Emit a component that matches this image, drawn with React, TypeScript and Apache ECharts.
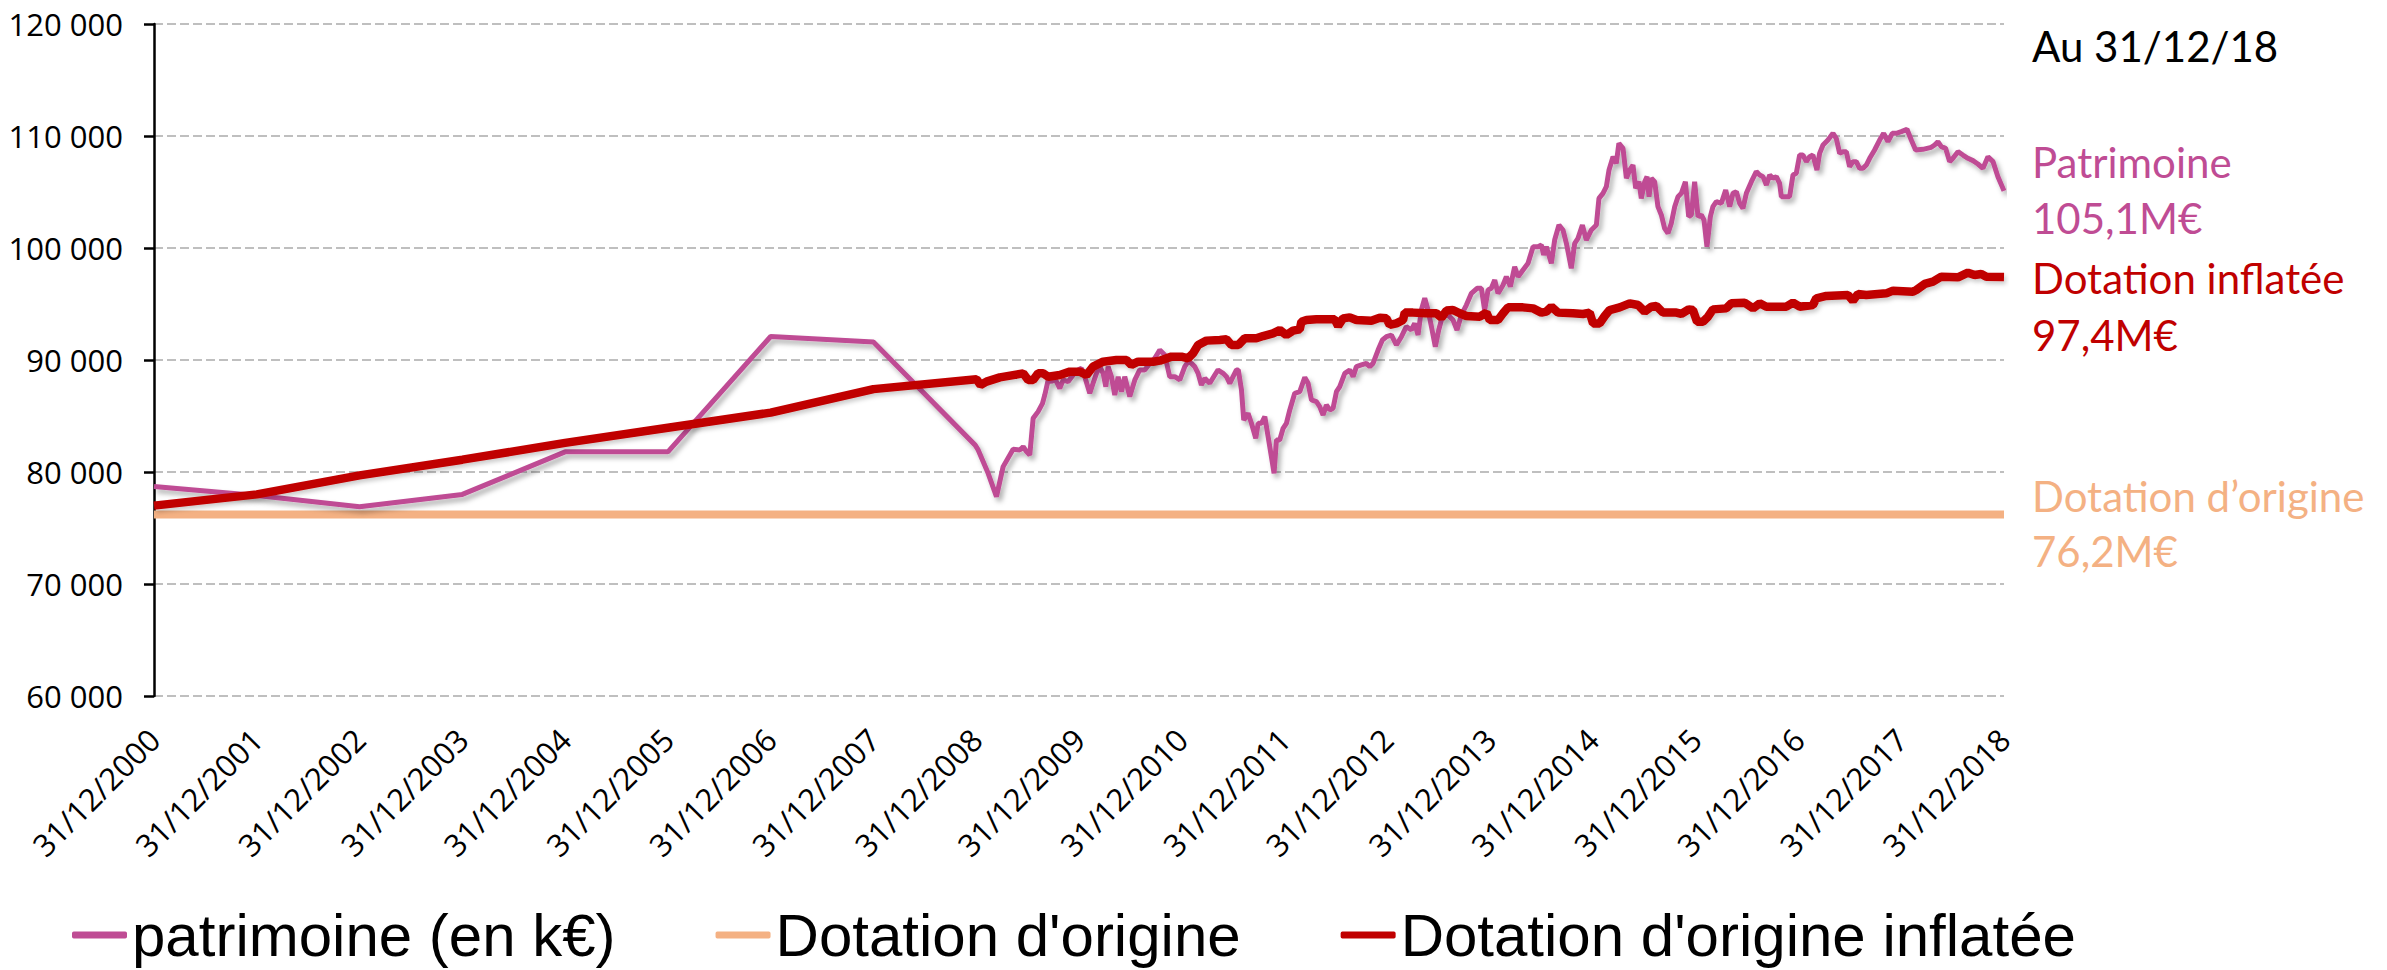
import React, { useEffect, useRef } from "react";
import * as echarts from "echarts";

// x = years elapsed since 31/12/2000 (0 = 31/12/2000, 18 = 31/12/2018)
const yearTicks = [2000, 2001, 2002, 2003, 2004, 2005, 2006, 2007, 2008, 2009, 2010, 2011, 2012, 2013, 2014, 2015, 2016, 2017, 2018];
const yTicks = [60000, 70000, 80000, 90000, 100000, 110000, 120000];

const seriesNames = ["patrimoine (en k€)", "Dotation d'origine", "Dotation d'origine inflatée"];

const patrimoineT = [
  0, 1, 2, 3, 4, 5, 6, 7, 7.99,
  8.019, 8.116, 8.197, 8.262, 8.359, 8.424, 8.457, 8.489, 8.521, 8.554, 8.602, 8.645, 8.667, 8.7, 8.732, 8.765, 8.813, 8.846, 8.894, 8.943, 8.992,
  9.024, 9.056, 9.105, 9.137, 9.17, 9.202, 9.235, 9.261, 9.283, 9.316, 9.348, 9.381, 9.413, 9.445, 9.494, 9.543, 9.591, 9.64, 9.689, 9.737, 9.786, 9.835, 9.883, 9.932, 9.981,
  10.029, 10.062, 10.094, 10.126, 10.159, 10.191, 10.224, 10.272, 10.321, 10.353, 10.402, 10.435, 10.467, 10.499, 10.532, 10.55, 10.581, 10.603, 10.645, 10.678, 10.72, 10.743, 10.775, 10.808, 10.84, 10.872, 10.898, 10.921, 10.953, 10.986,
  11.018, 11.051, 11.099, 11.148, 11.197, 11.229, 11.262, 11.31, 11.342, 11.375, 11.407, 11.44, 11.472, 11.505, 11.537, 11.586, 11.634, 11.667, 11.699, 11.748, 11.796, 11.829, 11.861, 11.91, 11.952, 11.991,
  12.04, 12.088, 12.137, 12.185, 12.234, 12.266, 12.299, 12.331, 12.364, 12.396, 12.429, 12.467, 12.5, 12.526, 12.575, 12.607, 12.639, 12.678, 12.72, 12.769, 12.818, 12.873, 12.915, 12.947, 12.98,
  13.012, 13.045, 13.077, 13.126, 13.158, 13.197, 13.239, 13.272, 13.32, 13.369, 13.418, 13.466, 13.499, 13.521, 13.547, 13.596, 13.628, 13.67, 13.709, 13.742, 13.765, 13.79, 13.823, 13.855, 13.898, 13.936, 13.985,
  14.034, 14.059, 14.098, 14.131, 14.157, 14.196, 14.228, 14.253, 14.293, 14.326, 14.358, 14.39, 14.416, 14.449, 14.471, 14.504, 14.527, 14.546, 14.569, 14.601, 14.633, 14.666, 14.698, 14.731, 14.763, 14.796, 14.828, 14.861, 14.9, 14.932, 14.958, 14.99,
  15.023, 15.055, 15.081, 15.11, 15.143, 15.168, 15.201, 15.25, 15.292, 15.331, 15.363, 15.396, 15.428, 15.46, 15.493, 15.542, 15.59, 15.623, 15.655, 15.688, 15.72, 15.752, 15.785, 15.817, 15.834, 15.882, 15.914, 15.947, 15.979,
  16.012, 16.044, 16.077, 16.109, 16.141, 16.18, 16.206, 16.239, 16.287, 16.336, 16.368, 16.401, 16.433, 16.466, 16.498, 16.53, 16.563, 16.595, 16.628, 16.66, 16.693, 16.741, 16.79, 16.829, 16.871, 16.913, 16.952,
  17.001, 17.056, 17.098, 17.14, 17.211, 17.292, 17.325, 17.357, 17.39, 17.432, 17.471, 17.503, 17.552, 17.6, 17.649, 17.698, 17.746, 17.795, 17.844, 17.893, 17.941, 18,
];
const patrimoineV = [
  78700, 77900, 76900, 78000, 81800, 81800, 92100, 91600, 82400,
  81970, 79880, 77800, 80480, 82030, 81970, 82260, 81820, 81520, 84790, 85390, 86130, 86880, 88220, 88070, 88360, 87470, 88220, 88070, 88660, 89110,
  89260, 88510, 87030, 87920, 88810, 89410, 88810, 87620, 89410, 88510, 86880, 88510, 87170, 88510, 86730, 88220, 89110, 89110, 89700, 90150, 90890, 90450, 88510, 88510, 88220,
  89410, 89850, 89700, 89410, 88810, 87770, 88360, 87920, 88660, 89110, 88810, 88510, 87920, 88510, 89110, 89110, 87320, 84640, 85240, 84350, 83010, 84350, 84350, 84940, 83160, 81370, 79880, 82860, 82860, 83900,
  84350, 85540, 87030, 87170, 88450, 87920, 86430, 86280, 85840, 85090, 85980, 85540, 85690, 87170, 87620, 88810, 89110, 88510, 89410, 89560, 89700, 89410, 89700, 90890, 91790, 92080,
  92230, 91340, 92080, 92980, 92680, 93270, 92230, 94460, 95510, 94460, 92980, 91190, 92680, 93570, 94170, 93870, 93570, 92680, 94020, 94910, 95950, 96400, 96400, 94460, 96250,
  96400, 97140, 95950, 96700, 97440, 96550, 98330, 97440, 98040, 98630, 100120, 100120, 100270, 99380, 100120, 98630, 100710, 102050, 101610, 100420, 99380, 98180, 100420, 100860, 102050, 100710, 101610,
  102050, 104430, 104880, 105480, 106970, 108150, 107560, 109350, 108900, 106220, 106960, 107410, 105330, 105920, 104430, 105920, 106370, 104580, 106220, 105920, 103690, 102950, 101760, 101310, 102200, 103690, 104580, 104880, 105920, 102800, 102950, 105920,
  102800, 102950, 102500, 100120, 102800, 103690, 104140, 103990, 105180, 103690, 104880, 105030, 103990, 103540, 104880, 105920, 106820, 106520, 106370, 105630, 106520, 106220, 106370, 105770, 104580, 104580, 104580, 106520, 106670,
  108300, 108300, 107710, 108150, 108300, 106960, 108450, 109200, 109640, 110240, 109790, 108450, 108600, 108600, 107260, 107710, 107710, 107110, 107110, 107410, 108010, 108750, 109640, 110240, 109490, 110240, 110240,
  110390, 110600, 109640, 108750, 108810, 108990, 109200, 109490, 109050, 108900, 107710, 108010, 108600, 108300, 108010, 107800, 107500, 107110, 108150, 107710, 106370, 105100,
];

const inflateeT = [
  0, 1, 2, 3, 4, 5, 6, 7,
  8.003, 8.042, 8.1, 8.23, 8.457, 8.505, 8.554, 8.602, 8.651, 8.7, 8.813, 8.911, 9.008, 9.073, 9.137, 9.235, 9.364, 9.462, 9.51, 9.575, 9.656, 9.721, 9.786, 9.9, 9.997,
  10.062, 10.11, 10.159, 10.24, 10.37, 10.435, 10.483, 10.55, 10.613, 10.726, 10.791, 10.888, 10.953, 11.018, 11.083, 11.148, 11.164, 11.213, 11.31, 11.488, 11.521, 11.569, 11.634, 11.699, 11.845, 11.926, 11.991,
  12.023, 12.088, 12.153, 12.169, 12.25, 12.38, 12.477, 12.526, 12.575, 12.639, 12.704, 12.769, 12.899, 12.964, 12.996, 13.077, 13.126, 13.174, 13.32, 13.418, 13.499, 13.547, 13.596, 13.661, 13.807, 13.904, 13.969,
  14.001, 14.066, 14.115, 14.163, 14.261, 14.358, 14.439, 14.504, 14.569, 14.618, 14.682, 14.812, 14.861, 14.932, 14.974, 15.013, 15.071, 15.12, 15.168, 15.298, 15.347, 15.477, 15.558, 15.623, 15.688, 15.882, 15.947,
  16.012, 16.141, 16.174, 16.271, 16.482, 16.53, 16.579, 16.66, 16.855, 16.92, 17.114, 17.147, 17.228, 17.309, 17.39, 17.552, 17.649, 17.714, 17.779, 17.828, 18,
];
const inflateeV = [
  77000, 78000, 79700, 81100, 82600, 83950, 85300, 87400,
  88280, 87770, 88070, 88450, 88810, 88220, 88220, 88810, 88810, 88510, 88660, 88960, 88960, 88660, 89410, 89850, 90000, 90000, 89560, 89850, 89850, 89850, 89940, 90300, 90300,
  90150, 90600, 91340, 91730, 91790, 91850, 91340, 91340, 91940, 91940, 92140, 92380, 92680, 92230, 92620, 92740, 93420, 93570, 93630, 93630, 93040, 93720, 93810, 93570, 93510, 93780, 93720,
  93130, 93270, 93570, 94230, 94230, 94170, 94170, 93780, 94410, 94460, 94170, 93930, 93870, 94230, 93570, 93570, 94170, 94700, 94700, 94610, 94230, 94320, 94760, 94230, 94170, 94110, 94230,
  93270, 93270, 93930, 94460, 94700, 95060, 94910, 94320, 94760, 94820, 94230, 94230, 94110, 94520, 94460, 93420, 93420, 93870, 94520, 94610, 95060, 95120, 94610, 95060, 94760, 94760, 95120,
  94760, 94910, 95510, 95720, 95800, 95300, 95890, 95800, 95950, 96190, 96100, 96250, 96790, 97000, 97440, 97380, 97800, 97590, 97680, 97440, 97400,
];

const origineT = [0, 18];
const origineV = [76200, 76200];

const annotations = [
  { text: "Au 31/12/18", color: "#000000", y: 46 },
  { text: "Patrimoine", color: "#BF4C94", y: 162 },
  { text: "105,1M€", color: "#BF4C94", y: 218 },
  { text: "Dotation inflatée", color: "#C00000", y: 278 },
  { text: "97,4M€", color: "#C00000", y: 335 },
  { text: "Dotation d’origine", color: "#F4B183", y: 496 },
  { text: "76,2M€", color: "#F4B183", y: 551 },
];

const pairs = (t: number[], v: number[]) => t.map((x, i) => [x, v[i]]);

export default function App() {
  const ref = useRef<HTMLDivElement>(null);
  useEffect(() => {
    document.body.style.margin = "0";
    if (!ref.current) return;
    const chart = echarts.init(ref.current, null, { renderer: "svg" });
    const axisFont = "'Open Sans', 'Noto Sans', sans-serif";
    chart.setOption({
      animation: false,
      backgroundColor: "#ffffff",
      grid: { left: 154, top: 24, width: 1850, height: 672, containLabel: false },
      xAxis: {
        type: "value",
        min: 0,
        max: yearTicks.length - 1,
        interval: 1,
        axisLine: { show: false },
        axisTick: { show: false },
        splitLine: { show: false },
        axisLabel: {
          rotate: 45,
          margin: 38,
          fontFamily: axisFont,
          fontSize: 31,
          color: "#000",
          formatter: (v: number) => "31/12/" + yearTicks[Math.round(v)],
        },
      },
      yAxis: {
        type: "value",
        min: yTicks[0],
        max: yTicks[yTicks.length - 1],
        interval: 10000,
        axisLine: { show: true, lineStyle: { color: "#000", width: 2.5 } },
        axisTick: { show: true, inside: false, length: 10, lineStyle: { color: "#000", width: 2.5 } },
        splitLine: { show: true, lineStyle: { color: "#BFBFBF", width: 2, type: [9, 4] } },
        axisLabel: {
          margin: 31,
          fontFamily: axisFont,
          fontSize: 31,
          color: "#000",
          formatter: (v: number) => `${Math.round(v / 1000)} 000`,
        },
      },
      legend: {
        data: seriesNames,
        left: 67,
        top: 900,
        itemWidth: 55,
        itemHeight: 7,
        itemGap: 100,
        icon: "roundRect",
        textStyle: { fontFamily: "'Liberation Sans', Arial, sans-serif", fontSize: 60, color: "#000" },
      },
      series: [
        {
          name: seriesNames[1],
          type: "line",
          data: pairs(origineT, origineV),
          symbol: "none",
          color: "#F4B183",
          lineStyle: { width: 8, color: "#F4B183" },
          z: 2,
        },
        {
          name: seriesNames[0],
          type: "line",
          data: pairs(patrimoineT, patrimoineV),
          symbol: "none",
          color: "#BF4C94",
          lineStyle: { width: 5, color: "#BF4C94", shadowColor: "rgba(0,0,0,0.3)", shadowBlur: 5, shadowOffsetX: 3, shadowOffsetY: 4 },
          z: 3,
        },
        {
          name: seriesNames[2],
          type: "line",
          data: pairs(inflateeT, inflateeV),
          symbol: "none",
          color: "#C00000",
          lineStyle: { width: 8.5, color: "#C00000", shadowColor: "rgba(0,0,0,0.2)", shadowBlur: 4, shadowOffsetX: 2, shadowOffsetY: 3 },
          z: 4,
        },
      ],
      graphic: annotations.map((a) => ({
        type: "text",
        x: 2032,
        y: a.y,
        style: {
          text: a.text,
          fill: a.color,
          font: "42px Lato, 'Open Sans', sans-serif",
          verticalAlign: "middle",
          align: "left",
        },
      })),
    });
    return () => chart.dispose();
  }, []);
  return <div ref={ref} style={{ width: 2387, height: 970 }} />;
}
